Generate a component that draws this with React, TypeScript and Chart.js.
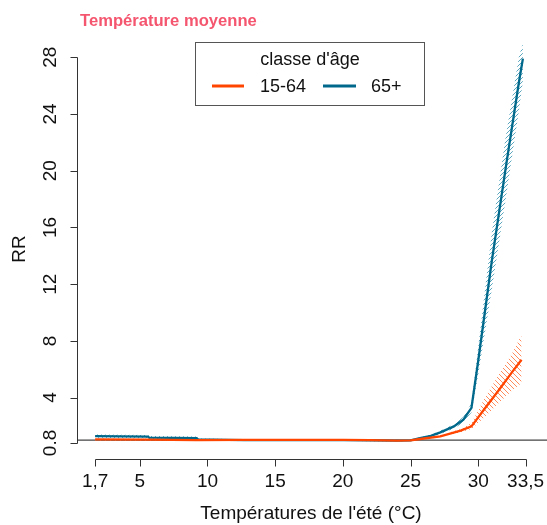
import React, { useEffect, useRef } from "react";
import { Chart, registerables } from "chart.js";

Chart.register(...registerables);

// ---- data ----
const chartTitle = "Température moyenne";
const legendTitle = "classe d'âge";
const seriesNames = ["15-64", "65+"];
const xTitle = "Températures de l'été (°C)";
const yTitle = "RR";

const xTickValues = [1.7, 5, 10, 15, 20, 25, 30, 33.5];
const xTickLabels = ["1,7", "5", "10", "15", "20", "25", "30", "33,5"];
const yTickValues = [0.8, 4, 8, 12, 16, 20, 24, 28];
const yTickLabels = ["0.8", "4", "8", "12", "16", "20", "24", "28"];
const refLine = 1;

const temps1564 = [1.7, 5.6, 9.2, 12.7, 16.0, 20.0, 22.0, 24.0, 25.0, 25.7, 27.2, 28.7, 29.5, 30.5, 31.5, 32.5, 33.2];
const rr1564 = [1.05, 1.03, 1.0, 1.02, 1.02, 1.02, 1.0, 0.97, 0.98, 1.08, 1.27, 1.67, 1.97, 3.25, 4.5, 5.8, 6.67];
const up1564 = [1.12, 1.1, 1.06, 1.07, 1.07, 1.07, 1.05, 1.02, 1.03, 1.13, 1.34, 1.78, 2.2, 4.0, 5.6, 7.1, 8.43];
const lo1564 = [0.98, 0.96, 0.95, 0.97, 0.97, 0.97, 0.95, 0.93, 0.94, 1.03, 1.2, 1.55, 1.78, 2.65, 3.6, 4.5, 5.03];

const temps65 = [1.7, 5.6, 5.7, 9.2, 9.3, 12.7, 20.0, 22.0, 24.0, 25.0, 25.7, 26.5, 27.2, 28.2, 28.9, 29.5, 30.0, 31.0, 32.0, 33.0, 33.3];
const rr65 = [1.28, 1.25, 1.18, 1.14, 1.05, 1.0, 1.0, 0.98, 0.97, 0.98, 1.15, 1.3, 1.55, 1.97, 2.44, 3.27, 6.6, 13.6, 20.0, 26.2, 27.9];
const up65 = [1.4, 1.37, 1.3, 1.25, 1.12, 1.06, 1.06, 1.04, 1.02, 1.03, 1.2, 1.38, 1.66, 2.12, 2.65, 3.6, 7.6, 15.6, 22.2, 28.0, 29.0];
const lo65 = [1.16, 1.13, 1.08, 1.04, 0.98, 0.95, 0.95, 0.93, 0.93, 0.94, 1.1, 1.22, 1.44, 1.82, 2.23, 2.95, 5.6, 11.6, 17.8, 24.2, 26.3];

const ORANGE = "#ff4500";
const TEAL = "#00688b";
const FONT = "Arial, 'Liberation Sans', Helvetica, sans-serif";

const pts = (xs: number[], ys: number[]) => xs.map((x, i) => ({ x, y: ys[i] }));

function makeHatch(ctx: CanvasRenderingContext2D, color: string, dir: "/" | "\\", s: number) {
  const c = document.createElement("canvas");
  c.width = s;
  c.height = s;
  const g = c.getContext("2d")!;
  g.strokeStyle = color;
  g.lineWidth = 1;
  g.beginPath();
  if (dir === "/") {
    g.moveTo(0, s); g.lineTo(s, 0);
    g.moveTo(-1, 1); g.lineTo(1, -1);
    g.moveTo(s - 1, s + 1); g.lineTo(s + 1, s - 1);
  } else {
    g.moveTo(0, 0); g.lineTo(s, s);
    g.moveTo(-1, s - 1); g.lineTo(1, s + 1);
    g.moveTo(s - 1, -1); g.lineTo(s + 1, 1);
  }
  g.stroke();
  return ctx.createPattern(c, "repeat") as CanvasPattern;
}

const rPlugin = {
  id: "rStyle",
  beforeDatasetsDraw(chart: any) {
    const { ctx, chartArea, scales } = chart;
    const y = scales.y.getPixelForValue(refLine);
    ctx.save();
    ctx.strokeStyle = "#444";
    ctx.lineWidth = 1.2;
    ctx.beginPath();
    ctx.moveTo(chartArea.left, y);
    ctx.lineTo(chartArea.right, y);
    ctx.stroke();
    ctx.restore();
  },
  afterDraw(chart: any) {
    const { ctx, chartArea, scales } = chart;
    const xs = scales.x;
    const ys = scales.y;
    ctx.save();
    ctx.strokeStyle = "#333";
    ctx.fillStyle = "#111";
    ctx.lineWidth = 1;
    // y axis
    const ax = chartArea.left + 0.5;
    const yTop = ys.getPixelForValue(yTickValues[yTickValues.length - 1]);
    const yBot = ys.getPixelForValue(yTickValues[0]);
    ctx.beginPath();
    ctx.moveTo(ax, Math.round(yTop) + 0.5);
    ctx.lineTo(ax, Math.round(yBot) + 0.5);
    yTickValues.forEach((v) => {
      const p = Math.round(ys.getPixelForValue(v)) + 0.5;
      ctx.moveTo(ax, p);
      ctx.lineTo(ax - 7, p);
    });
    ctx.stroke();
    ctx.font = `19px ${FONT}`;
    ctx.textAlign = "center";
    ctx.textBaseline = "middle";
    yTickValues.forEach((v, i) => {
      const p = ys.getPixelForValue(v);
      ctx.save();
      ctx.translate(51, p);
      ctx.rotate(-Math.PI / 2);
      ctx.fillText(yTickLabels[i], 0, 0);
      ctx.restore();
    });
    // x axis
    const ay = chartArea.bottom + 0.5;
    const xL = xs.getPixelForValue(xTickValues[0]);
    const xR = xs.getPixelForValue(xTickValues[xTickValues.length - 1]);
    ctx.beginPath();
    ctx.moveTo(Math.round(xL) + 0.5, ay);
    ctx.lineTo(Math.round(xR) + 0.5, ay);
    xTickValues.forEach((v) => {
      const p = Math.round(xs.getPixelForValue(v)) + 0.5;
      ctx.moveTo(p, ay);
      ctx.lineTo(p, ay + 7);
    });
    ctx.stroke();
    xTickValues.forEach((v, i) => {
      ctx.fillText(xTickLabels[i], xs.getPixelForValue(v), 482);
    });
    // axis titles
    ctx.fillText(xTitle, 311, 514);
    ctx.save();
    ctx.translate(20, 249);
    ctx.rotate(-Math.PI / 2);
    ctx.fillText(yTitle, 0, 0);
    ctx.restore();
    // chart title
    ctx.font = `bold 16.6px ${FONT}`;
    ctx.textAlign = "left";
    ctx.textBaseline = "alphabetic";
    ctx.fillStyle = "#f5566f";
    ctx.fillText(chartTitle, 80, 26);
    // legend
    ctx.strokeStyle = "#555";
    ctx.lineWidth = 1;
    ctx.strokeRect(195.5, 42.5, 229, 63);
    ctx.fillStyle = "#111";
    ctx.font = `18px ${FONT}`;
    ctx.textAlign = "center";
    ctx.textBaseline = "middle";
    ctx.fillText(legendTitle, 310, 60);
    ctx.textAlign = "left";
    const entries = [
      { name: seriesNames[0], color: ORANGE, x0: 212, x1: 244, tx: 260 },
      { name: seriesNames[1], color: TEAL, x0: 323, x1: 356, tx: 371 },
    ];
    entries.forEach((e) => {
      ctx.strokeStyle = e.color;
      ctx.lineWidth = 3;
      ctx.beginPath();
      ctx.moveTo(e.x0, 86);
      ctx.lineTo(e.x1, 86);
      ctx.stroke();
      ctx.fillText(e.name, e.tx, 87);
    });
    ctx.restore();
  },
};

export default function App() {
  const ref = useRef<HTMLCanvasElement | null>(null);
  useEffect(() => {
    const canvas = ref.current!;
    const ctx = canvas.getContext("2d")!;
    const hatchTeal = makeHatch(ctx, "#5aa6be", "/", 4);
    const hatchOrange = makeHatch(ctx, "#ff8a5c", "\\", 5);
    const chart = new Chart(canvas, {
      type: "line",
      data: {
        datasets: [
          {
            label: "up65",
            data: pts(temps65, up65),
            borderWidth: 0,
            pointRadius: 0,
            backgroundColor: hatchTeal,
            fill: "+1",
            order: 3,
          } as any,
          {
            label: "lo65",
            data: pts(temps65, lo65),
            borderWidth: 0,
            pointRadius: 0,
            fill: false,
            order: 3,
          },
          {
            label: "up1564",
            data: pts(temps1564, up1564),
            borderWidth: 0,
            pointRadius: 0,
            backgroundColor: hatchOrange,
            fill: "+1",
            order: 2,
          } as any,
          {
            label: "lo1564",
            data: pts(temps1564, lo1564),
            borderWidth: 0,
            pointRadius: 0,
            fill: false,
            order: 2,
          },
          {
            label: seriesNames[1],
            data: pts(temps65, rr65),
            borderColor: TEAL,
            borderWidth: 2.3,
            pointRadius: 0,
            fill: false,
            tension: 0,
            order: 1,
          },
          {
            label: seriesNames[0],
            data: pts(temps1564, rr1564),
            borderColor: ORANGE,
            borderWidth: 2.3,
            pointRadius: 0,
            fill: false,
            tension: 0,
            order: 0,
          },
        ],
      },
      options: {
        animation: false,
        responsive: false,
        devicePixelRatio: 1,
        layout: { padding: { left: 77, right: 0, top: 27, bottom: 66 } },
        plugins: { legend: { display: false }, tooltip: { enabled: false }, title: { display: false } },
        scales: {
          x: { type: "linear", min: 0.36, max: 35.08, display: false },
          y: { type: "linear", min: -0.33, max: 30.13, display: false },
        },
      },
      plugins: [rPlugin],
    });
    return () => chart.destroy();
  }, []);
  return (
    <div style={{ position: "absolute", left: 0, top: 0, width: 547, height: 525, background: "#fff" }}>
      <canvas ref={ref} width={547} height={525} style={{ width: 547, height: 525, display: "block" }} />
    </div>
  );
}
